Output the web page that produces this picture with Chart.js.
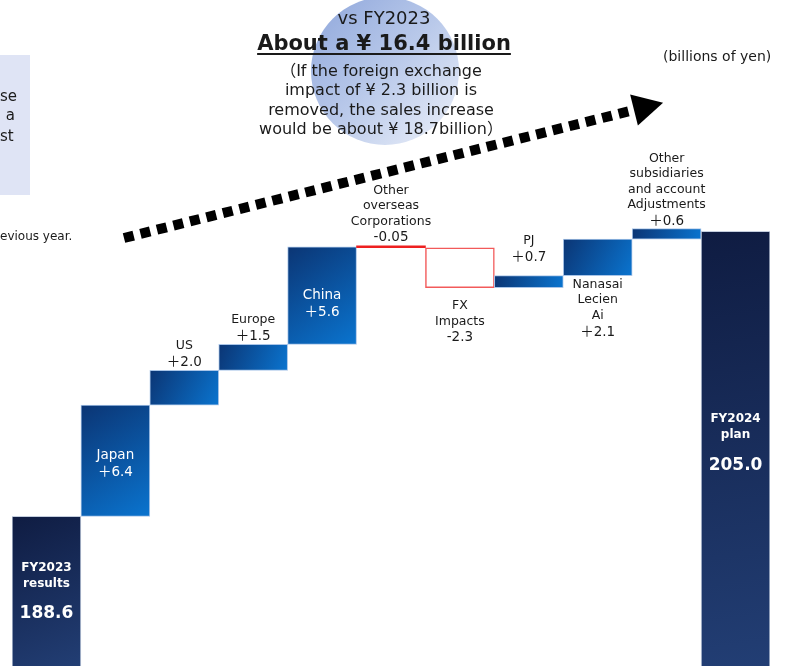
<!DOCTYPE html>
<html>
<head>
<meta charset="utf-8">
<script src="https://cdn.jsdelivr.net/npm/chart.js@4.4.1/dist/chart.umd.min.js"></script>
<style>
html, body { margin: 0; padding: 0; background: #fff; }
#wrap { position: relative; width: 785px; height: 666px; overflow: hidden; font-family: 'DejaVu Sans', Verdana, 'Noto Sans CJK JP', sans-serif; color: #1a1a1a; }
#bubble { position: absolute; left: 311px; top: -3px; width: 148px; height: 148px; border-radius: 50%;
  background: linear-gradient(135deg, #8ea6db 0%, #b9c9ea 50%, #eef2fa 100%); }
#sideBox { position: absolute; left: 0; top: 55px; width: 30px; height: 140px; background: #dfe4f5; }
canvas { position: absolute; left: 0; top: 0; }
.t { position: absolute; white-space: nowrap; line-height: 1; }
#title { position: absolute; left: 234px; top: 6px; width: 300px; text-align: center; }
#title .vs { font-size: 18px; line-height: 24px; }
#title .big { font-size: 21px; font-weight: bold; line-height: 26px; text-decoration: underline; text-decoration-thickness: 2px; text-underline-offset: 3px; }
#title .note { font-size: 16px; line-height: 19.3px; margin-top: 5px; margin-left: -6px; }
</style>
</head>
<body>
<div id="wrap">
  <div id="bubble"></div>
  <div id="sideBox"></div>
  <canvas id="chart" width="785" height="666"></canvas>
  <div id="title">
    <div class="vs">vs FY2023</div>
    <div class="big">About a ¥ 16.4 billion</div>
    <div class="note">（If the foreign exchange<br>impact of ¥ 2.3 billion is<br>removed, the sales increase<br>would be about ¥ 18.7billion）</div>
  </div>
  <div class="t" style="left:663px;top:49px;font-size:14px;">(billions of yen)</div>
  <div class="t" style="left:0;top:89px;width:17px;text-align:right;font-size:15px;">se</div>
  <div class="t" style="left:0;top:108px;width:15px;text-align:right;font-size:15px;">a</div>
  <div class="t" style="left:0;top:129px;width:11px;text-align:right;font-size:15px;">st</div>
  <div class="t" style="left:0;top:230px;font-size:12px;">evious year.</div>
</div>
<script>
// 売上高の増減（十億円）
const categories = [
  ['FY2023', 'results'], ['Japan'], ['US'], ['Europe'], ['China'],
  ['Other', 'overseas', 'Corporations'], ['FX', 'Impacts'], ['PJ'],
  ['Nanasai', 'Lecien', 'Ai'], ['Other', 'subsidiaries', 'and account', 'Adjustments'],
  ['FY2024', 'plan']
];
const changes = [188.6, 6.4, 2.0, 1.5, 5.6, -0.05, -2.3, 0.7, 2.1, 0.6, 205.0];
const valueLabels = ['188.6', '＋6.4', '＋2.0', '＋1.5', '＋5.6', '-0.05', '-2.3', '＋0.7', '＋2.1', '＋0.6', '205.0'];
const isTotal = [true, false, false, false, false, false, false, false, false, false, true];

// label placement (style only)
const placement = ['total', 'inside', 'above', 'above', 'inside', 'above', 'below', 'above', 'below', 'above', 'total'];
const labelGap = [51, 50, 8, 8, 49, 8, 18, 18, 9, 7, 188];

let run = 0;
const ranges = changes.map((v, i) => {
  if (isTotal[i]) { run = v; return [0, v]; }
  const r = [run, run + v];
  run += v;
  return r;
});

function barFill(c) {
  const chart = c.chart, i = c.dataIndex;
  if (!chart.chartArea) return '#0b5cad';
  if (i === 5) return '#ee2020';
  if (changes[i] < 0) return '#ffffff';
  const xs = chart.scales.x, ys = chart.scales.y;
  const half = xs.width / categories.length / 2;
  const cx = xs.getPixelForValue(i);
  const r = ranges[i];
  const top = ys.getPixelForValue(Math.max(r[0], r[1]));
  const bottom = Math.min(ys.getPixelForValue(Math.min(r[0], r[1])), chart.chartArea.bottom);
  const g = chart.ctx.createLinearGradient(cx - half, top, cx + half, bottom);
  if (isTotal[i]) {
    g.addColorStop(0, '#0f1c42');
    g.addColorStop(1, '#223e74');
  } else {
    g.addColorStop(0, '#0b3574');
    g.addColorStop(1, '#0a74cf');
  }
  return g;
}

function borderFor(c) {
  const i = c.dataIndex;
  if (changes[i] < 0) return i === 5 ? '#ee2020' : '#f25a5a';
  return isTotal[i] ? '#c4cede' : '#a9c5e8';
}

const labelPlugin = {
  id: 'stepLabels',
  afterDatasetsDraw(chart) {
    const ctx = chart.ctx;
    const meta = chart.getDatasetMeta(0);
    const fam = "'DejaVu Sans', 'Noto Sans CJK JP', sans-serif";
    ctx.save();
    ctx.textAlign = 'center';
    ctx.textBaseline = 'middle';
    meta.data.forEach((bar, i) => {
      const top = Math.min(bar.y, bar.base);
      const bottom = Math.max(bar.y, bar.base);
      const lines = categories[i];
      const gap = labelGap[i];
      const mode = placement[i];
      if (mode === 'total') {
        ctx.fillStyle = '#ffffff';
        ctx.font = 'bold 12px ' + fam;
        const y0 = top + gap;
        lines.forEach((l, k) => ctx.fillText(l, bar.x, y0 + k * 16));
        ctx.font = 'bold 17px ' + fam;
        ctx.fillText(valueLabels[i], bar.x, y0 + (lines.length - 1) * 16 + 30);
      } else if (mode === 'inside') {
        ctx.fillStyle = '#ffffff';
        ctx.font = '13.5px ' + fam;
        const y0 = top + gap;
        lines.forEach((l, k) => ctx.fillText(l, bar.x, y0 + k * 17));
        ctx.fillText(valueLabels[i], bar.x, y0 + lines.length * 17);
      } else {
        ctx.fillStyle = '#1a1a1a';
        ctx.font = '12.5px ' + fam;
        const n = lines.length;
        let y0;
        if (mode === 'above') {
          y0 = top - gap - 16.5 - (n - 1) * 15.5;
        } else {
          y0 = bottom + gap;
        }
        lines.forEach((l, k) => ctx.fillText(l, bar.x, y0 + k * 15.5));
        ctx.font = '13.5px ' + fam;
        ctx.fillText(valueLabels[i], bar.x, y0 + (n - 1) * 15.5 + 16.5);
      }
    });
    ctx.restore();
  }
};

// 点線の矢印
const arrowPlugin = {
  id: 'trendArrow',
  afterDraw(chart) {
    const ctx = chart.ctx;
    const x0 = 124, y0 = 238, x1 = 634, y1 = 110;
    const len = Math.hypot(x1 - x0, y1 - y0);
    const ux = (x1 - x0) / len, uy = (y1 - y0) / len;
    ctx.save();
    ctx.strokeStyle = '#000';
    ctx.lineWidth = 10;
    ctx.setLineDash([10, 7]);
    ctx.beginPath();
    ctx.moveTo(x0, y0);
    ctx.lineTo(x1, y1);
    ctx.stroke();
    ctx.setLineDash([]);
    ctx.fillStyle = '#000';
    ctx.beginPath();
    ctx.moveTo(x1 + ux * 30, y1 + uy * 30);
    ctx.lineTo(x1 - uy * 16, y1 + ux * 16);
    ctx.lineTo(x1 + uy * 16, y1 - ux * 16);
    ctx.closePath();
    ctx.fill();
    ctx.restore();
  }
};

chart = new Chart(document.getElementById('chart').getContext('2d'), {
  type: 'bar',
  data: {
    labels: categories.map(c => c.join(' ')),
    datasets: [{
      data: ranges,
      backgroundColor: barFill,
      borderColor: borderFor,
      borderWidth: (c) => (c.dataIndex === 5 ? 0 : (changes[c.dataIndex] < 0 ? 1.5 : 1)),
      borderSkipped: false,
      minBarLength: 2,
      barPercentage: 1,
      categoryPercentage: 1
    }]
  },
  options: {
    responsive: false,
    animation: false,
    devicePixelRatio: 1,
    layout: { padding: { left: 12, right: 15, top: 0, bottom: 0 } },
    plugins: { legend: { display: false }, tooltip: { enabled: false } },
    scales: {
      x: { display: false },
      y: { display: false, min: 180, max: 218.3 }
    }
  },
  plugins: [labelPlugin, arrowPlugin]
});
</script>
</body>
</html>
